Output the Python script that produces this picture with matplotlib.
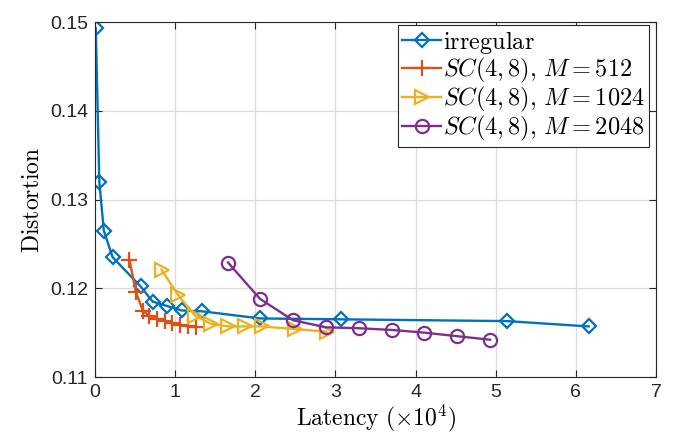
import matplotlib
matplotlib.use("Agg")
import matplotlib.pyplot as plt

plt.rcParams['font.family'] = ['Liberation Sans', 'DejaVu Sans']
plt.rcParams['mathtext.fontset'] = 'cm'

# latency in units of 1e4, distortion
irr_x = [0.01, 0.054, 0.11, 0.22, 0.57, 0.72, 0.90, 1.08, 1.34, 2.06, 3.07, 5.14, 6.16]
irr_y = [0.1493, 0.1320, 0.1265, 0.1235, 0.1202, 0.1185, 0.1180, 0.1175, 0.1174, 0.1166, 0.1165, 0.1163, 0.1157]

m512_x = [0.43, 0.51, 0.60, 0.68, 0.77, 0.87, 0.96, 1.06, 1.16, 1.26]
m512_y = [0.1232, 0.1196, 0.1174, 0.1169, 0.1165, 0.1163, 0.1161, 0.1159, 0.1157, 0.1156]

m1024_x = [0.83, 1.04, 1.25, 1.45, 1.66, 1.87, 2.08, 2.50, 2.89]
m1024_y = [0.1221, 0.1192, 0.1169, 0.1160, 0.1157, 0.1157, 0.1157, 0.1154, 0.1151]

m2048_x = [1.66, 2.06, 2.47, 2.88, 3.29, 3.71, 4.11, 4.52, 4.93]
m2048_y = [0.1229, 0.1188, 0.1164, 0.1156, 0.1155, 0.1153, 0.1150, 0.1146, 0.1142]

fig = plt.figure(figsize=(6.77, 4.41), dpi=100)
ax = fig.add_axes([0.1403, 0.1451, 0.8287, 0.8049])

ax.plot(irr_x, irr_y, color='#0072BD', marker='D', markersize=7.5, mfc='none',
        mew=1.6, lw=1.7, label=r'$\mathrm{irregular}$')
ax.plot(m512_x, m512_y, color='#D95319', marker='+', markersize=12,
        mew=1.6, lw=1.7, label=r'$SC(4,8),\, M=512$')
ax.plot(m1024_x, m1024_y, color='#EDB120', marker='>', markersize=9.5, mfc='none',
        mew=1.6, lw=1.7, label=r'$SC(4,8),\, M=1024$')
ax.plot(m2048_x, m2048_y, color='#7E2F8E', marker='o', markersize=9.5, mfc='none',
        mew=1.6, lw=1.7, label=r'$SC(4,8),\, M=2048$')

ax.set_xlim(0, 7)
ax.set_ylim(0.11, 0.15)
ax.set_xticks(range(8))
ax.set_yticks([0.11, 0.12, 0.13, 0.14, 0.15])
ax.set_yticklabels(['0.11', '0.12', '0.13', '0.14', '0.15'])
ax.tick_params(direction='in', labelsize=14, colors='#262626', length=5,
               top=True, right=True, pad=5)
ax.grid(True, color='#dcdcdc', lw=0.9)
ax.set_axisbelow(True)
for s in ax.spines.values():
    s.set_color('#262626')
    s.set_linewidth(0.8)

ax.set_xlabel(r'$\mathrm{Latency}\ (\times 10^4)$', fontsize=17, labelpad=1)
ax.set_ylabel(r'$\mathrm{Distortion}$', fontsize=17, labelpad=4)

leg = ax.legend(loc='upper right', bbox_to_anchor=(0.9875, 0.9915), fontsize=17.5,
                fancybox=False, framealpha=1, edgecolor='#262626',
                handlelength=1.6, handletextpad=0.1, borderpad=0.15,
                labelspacing=0.0, borderaxespad=0)
leg.get_frame().set_linewidth(0.8)

fig.savefig('out.png', dpi=100)
